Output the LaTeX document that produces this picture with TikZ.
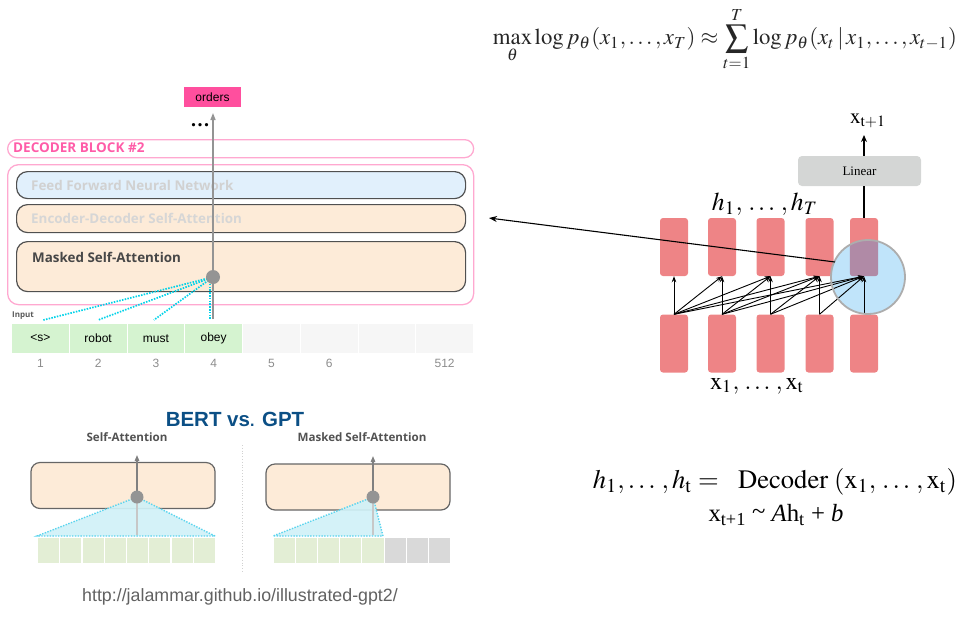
\documentclass[tikz,border=0pt]{standalone}
\usepackage{mathptmx}
\usepackage{fontspec}
\setmainfont{Liberation Serif}
\newfontfamily\osans{Open Sans}
\newfontfamily\arial{Liberation Sans}
\usetikzlibrary{arrows.meta,calc}
\definecolor{hotpink}{HTML}{FF4F9E}
\definecolor{decpink}{HTML}{FF5CA8}
\definecolor{decborder}{HTML}{FFA8D0}
\definecolor{ffblue}{HTML}{E1F0FC}
\definecolor{peach}{HTML}{FDEBD8}
\definecolor{boxborder}{HTML}{505050}
\definecolor{tokgreen}{HTML}{D5F3D0}
\definecolor{tokgray}{HTML}{F6F6F6}
\definecolor{cyanline}{HTML}{00D2E8}
\definecolor{bertblue}{HTML}{0B4F85}
\definecolor{cellgreen}{HTML}{E3EED5}
\definecolor{cellgray}{HTML}{D9D9D9}
\definecolor{trifill}{HTML}{D0F1F7}
\definecolor{tridash}{HTML}{5AD4EE}
\definecolor{salmon}{HTML}{EE8486}
\definecolor{attblue}{HTML}{C0E4FA}
\definecolor{mauve}{HTML}{B08AA6}
\definecolor{lingray}{HTML}{D4D6D5}
\tikzset{
  layerbox/.style={draw=boxborder, line width=1.2pt, rounded corners=11pt, anchor=north west, inner sep=0pt},
  layertext/.style={anchor=west, inner sep=0pt, font=\osans\bfseries\fontsize{13.4}{15}\selectfont},
  tokcell/.style={draw=white, line width=1pt, minimum width=57.75pt, minimum height=30pt, inner sep=0pt, anchor=north west, font=\arial\fontsize{12}{14}\selectfont},
  numlab/.style={text=black!45, font=\arial\fontsize{12}{14}\selectfont, inner sep=0pt},
  garrow/.style={draw=black!42, line width=1.5pt, -{Triangle[length=7pt,width=5pt]}},
  gdot/.style={circle, fill=black!42, minimum size=14pt, inner sep=0pt},
  cyandot/.style={draw=cyanline, line width=1.7pt, dash pattern=on 1.5pt off 1.3pt},
  smallcell/.style={draw=white, line width=1pt, minimum width=22.2pt, minimum height=26pt, inner sep=0pt, anchor=north west},
  peachbox/.style={draw=black!60, line width=1.2pt, fill=peach, rounded corners=9pt, minimum width=184pt, minimum height=46pt, inner sep=0pt},
  hbox/.style={fill=salmon, rounded corners=3pt, minimum width=28pt, minimum height=58pt, inner sep=0pt},
  rarrow/.style={draw=black, line width=0.9pt, -{Stealth[length=6pt,width=4.5pt]}},
  sublab/.style={text=black!68, font=\osans\bfseries\fontsize{11.6}{13}\selectfont, inner sep=0pt},
}
\begin{document}
\begin{tikzpicture}[x=1pt,y=-1pt]
\useasboundingbox (0,0) rectangle (959,625);
% ================= top-left decoder =================
\node[fill=hotpink, minimum width=57pt, minimum height=20pt, inner sep=0pt, font=\arial\fontsize{12}{14}\selectfont] (orders) at (212.5,97) {orders};
\node[font=\bfseries\fontsize{20}{20}\selectfont, inner sep=0pt] (dots) at (200,125) {.\kern1.5pt.\kern1.5pt.};
\node[draw=decborder, line width=1.3pt, rounded corners=9pt, minimum width=466pt, minimum height=18pt, inner sep=0pt, anchor=north west] (decblock) at (7,139) {};
\node[anchor=west, inner sep=0pt, text=decpink, font=\osans\bfseries\fontsize{13.5}{15}\selectfont] (dectext) at (13,148) {DECODER BLOCK \#2};
\node[draw=decborder, line width=1.3pt, rounded corners=11pt, minimum width=466pt, minimum height=140pt, inner sep=0pt, anchor=north west] (outer) at (7,164) {};
\node[layerbox, fill=ffblue, minimum width=449pt, minimum height=27pt] (ffnn) at (16,171) {};
\node[layertext, text=black!18] (fftext) at (31,185) {Feed Forward Neural Network};
\node[layerbox, fill=peach, minimum width=449pt, minimum height=28pt] (encdec) at (16,204) {};
\node[layertext, text=black!16] (edtext) at (31,218.5) {Encoder-Decoder Self-Attention};
\node[layerbox, fill=peach, minimum width=449pt, minimum height=50pt] (msa) at (16,241) {};
\node[layertext, text=black!72] (msatext) at (32,257) {Masked Self-Attention};
% tokens
\node[anchor=west, inner sep=0pt, text=black!65, font=\osans\bfseries\fontsize{8}{9}\selectfont] (inputlab) at (12,316) {Input};
\node[tokcell, fill=tokgreen] (t1) at (11,323) {<s>};
\node[tokcell, fill=tokgreen] (t2) at (68.75,323) {robot};
\node[tokcell, fill=tokgreen] (t3) at (126.5,323) {must};
\node[tokcell, fill=tokgreen] (t4) at (184.25,323) {obey};
\node[tokcell, fill=tokgray] (t5) at (242,323) {};
\node[tokcell, fill=tokgray] (t6) at (299.75,323) {};
\node[tokcell, fill=tokgray] (t7) at (357.5,323) {};
\node[tokcell, fill=tokgray] (t8) at (415.25,323) {};
\node[numlab] (n1) at (t1.south |- 0,363) {1};
\node[numlab] (n2) at (t2.south |- 0,363) {2};
\node[numlab] (n3) at (t3.south |- 0,363) {3};
\node[numlab] (n4) at (t4.south |- 0,363) {4};
\node[numlab] (n5) at (t5.south |- 0,363) {5};
\node[numlab] (n6) at (t6.south |- 0,363) {6};
\node[numlab] (n8) at (t8.south |- 0,363) {512};
% arrow and attention lines
\coordinate (arrbot) at (213,319);
\coordinate (arrtop) at (213,113);
\draw[garrow] (arrbot) -- (arrtop);
\coordinate (c1) at (213,277);
\draw[cyandot] (c1) -- ($(t1.north)+(3,-3)$);
\draw[cyandot] (c1) -- ($(t2.north)+(0,-3)$);
\draw[cyandot] (c1) -- ($(t3.north)+(-2,-3)$);
\draw[cyandot] (210,281) -- (210,320);
\node[gdot] (dot1) at (c1) {};
% ================= BERT vs GPT =================
\node[text=bertblue, font=\arial\bfseries\fontsize{20.5}{22}\selectfont, inner sep=0pt] (bert) at (235,419) {BERT vs{\fontsize{16}{18}\selectfont.} GPT};
\node[sublab] (salab) at (127,437) {Self-Attention};
\node[sublab] (msalab) at (362,437) {Masked Self-Attention};
\coordinate (divtop) at (242,445);
\coordinate (divbot) at (242,573);
\draw[black!18, dotted, line width=0.8pt] (divtop) -- (divbot);
% left panel
\node[peachbox] (sabox) at (123,485.5) {};
\foreach \i in {0,...,7} {
  \node[smallcell, fill=cellgreen] (l\i) at ({37+\i*22.25},537) {};
}
\coordinate (lc) at (137,497);
\coordinate (lleft) at (37,536);
\coordinate (lright) at (215,536);
\fill[trifill, opacity=0.92] (lc) -- (lleft) -- (lright) -- cycle;
\draw[tridash, line width=1.4pt, dash pattern=on 1.4pt off 1.4pt] (lright) -- (lc) -- (lleft) -- (lright);
\coordinate (lbot) at (137,535);
\draw[black!22, line width=1.3pt] (lc) -- (lbot);
\coordinate (ltop) at (137,455);
\draw[draw=black!50, line width=1.3pt, -{Triangle[length=6pt,width=4.5pt]}] (lc) -- (ltop);
\node[gdot, minimum size=13pt] (ldot) at (lc) {};
% right panel
\node[peachbox] (msabox) at (358,487) {};
\foreach \i in {0,...,4} {
  \node[smallcell, fill=cellgreen] (r\i) at ({273+\i*22.1},537) {};
}
\foreach \i in {5,...,7} {
  \node[smallcell, fill=cellgray] (r\i) at ({273+\i*22.1},537) {};
}
\coordinate (rc) at (373,497);
\coordinate (rleft) at (273,536);
\coordinate (rright) at (383,536);
\fill[trifill, opacity=0.92] (rc) -- (rleft) -- (rright) -- cycle;
\draw[tridash, line width=1.4pt, dash pattern=on 1.4pt off 1.4pt] (rright) -- (rc) -- (rleft) -- (rright);
\coordinate (rbot) at (373,535);
\draw[black!22, line width=1.3pt] (rc) -- (rbot);
\coordinate (rtop) at (373,456);
\draw[draw=black!50, line width=1.3pt, -{Triangle[length=6pt,width=4.5pt]}] (rc) -- (rtop);
\node[gdot, minimum size=13pt] (rdot) at (rc) {};
% url
\node[text=black!62, font=\arial\fontsize{17.8}{20}\selectfont, inner sep=0pt] (url) at (240,597) {http://jalammar.github.io/illustrated-gpt2/};
% ================= formulas =================
\node[inner sep=0pt, text=black!85] (f1) at (725,39) {\resizebox{464pt}{!}{$\displaystyle \max_{\theta}\log p_{\theta}(x_1,\ldots,x_T)\approx\sum_{t=1}^{T}\log p_{\theta}(x_t\,|\,x_1,\ldots,x_{t-1})$}};
\node[inner sep=0pt] (f2) at (775,482) {\resizebox{364pt}{!}{$h_1,\ldots\,,h_{\mathrm{t}} =\ \ \mathrm{Decoder}\;(\mathrm{x}_1,\,\ldots\,,\mathrm{x}_{\mathrm{t}})$}};
\node[inner sep=0pt] (f3) at (776,515) {\resizebox{135pt}{!}{\fontsize{25}{28}\selectfont x\textsubscript{t+1} \raisebox{2pt}{\char"7E} \textit{A}h\textsubscript{t} + \textit{b}}};
% ================= RNN diagram =================
\foreach \i/\x in {1/674,2/722,3/770.5,4/819.5,5/864} {
  \node[hbox] (h\i) at (\x,247) {};
  \node[hbox] (x\i) at (\x,343.5) {};
}
\node[circle, minimum size=74pt, inner sep=0pt, fill=attblue] (att) at (868,277) {};
\begin{scope}
  \clip (868,277) circle (37pt);
  \fill[mauve, rounded corners=3pt] (h5.north west) rectangle (h5.south east);
\end{scope}
\foreach \a/\b in {1/1,1/2,1/3,1/4,1/5,2/2,2/3,2/4,2/5,3/3,3/4,3/5,4/4,4/5,5/5} {
  \draw[rarrow] (x\a.north) -- (h\b.south);
}
\draw[draw=black!32, line width=1.8pt] (868,277) circle (37pt);
\coordinate (attleft) at (835,262);
\coordinate (target) at (489,218);
\draw[draw=black, line width=1.1pt, -{Stealth[length=8pt,width=6pt]}] (attleft) -- (target);
\node[fill=lingray, rounded corners=4pt, minimum width=123pt, minimum height=30pt, inner sep=0pt, font=\fontsize{13}{15}\selectfont] (lin) at (859.5,171) {Linear};
\draw[line width=1.6pt] (h5.north) -- (h5.north |- lin.south);
\coordinate (outtip) at (864,135);
\draw[line width=1.6pt, -{Stealth[length=7pt,width=6pt]}] (h5.north |- lin.north) -- (outtip);
\node[inner sep=0pt] (xt1) at (868,121) {\resizebox{36pt}{!}{$\mathrm{x}_{\mathrm{t+1}}$}};
\node[inner sep=0pt] (hlab) at (765,204) {\resizebox{106pt}{!}{$h_1,\,\ldots\,,h_T$}};
\node[inner sep=0pt] (xlab) at (757,386) {\resizebox{94pt}{!}{$\mathrm{x}_1,\,\ldots\,,\mathrm{x}_{\mathrm{t}}$}};
\end{tikzpicture}
\end{document}
